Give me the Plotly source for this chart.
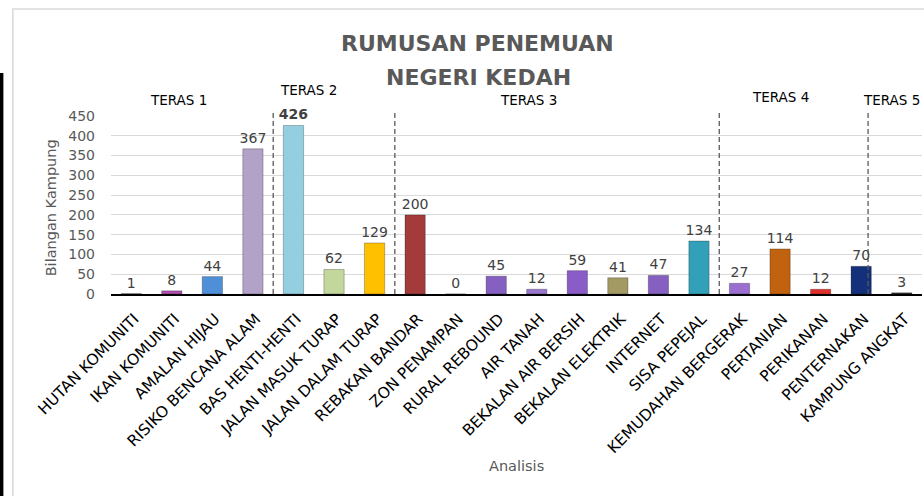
import plotly.graph_objects as go

categories = ["HUTAN KOMUNITI", "IKAN KOMUNITI", "AMALAN HIJAU", "RISIKO BENCANA ALAM",
              "BAS HENTI-HENTI", "JALAN MASUK TURAP", "JALAN DALAM TURAP", "REBAKAN BANDAR",
              "ZON PENAMPAN", "RURAL REBOUND", "AIR TANAH", "BEKALAN AIR BERSIH",
              "BEKALAN ELEKTRIK", "INTERNET", "SISA PEPEJAL", "KEMUDAHAN BERGERAK",
              "PERTANIAN", "PERIKANAN", "PENTERNAKAN", "KAMPUNG ANGKAT"]
values = [1, 8, 44, 367, 426, 62, 129, 200, 0, 45, 12, 59, 41, 47, 134, 27, 114, 12, 70, 3]
bar_colors = ["#7f7f7f", "#b04fb0", "#4f8fd8", "#b3a2c7", "#93cfe0", "#c3d69b", "#ffc000",
              "#a33b3b", "#888888", "#8660c0", "#9977cc", "#8a5cc8", "#a39a63", "#8660c0",
              "#31a0b8", "#9a6fd0", "#c0620f", "#e0302c", "#14307a", "#333333"]
teras_labels = ["TERAS 1", "TERAS 2", "TERAS 3", "TERAS 4", "TERAS 5"]
teras_dividers = [3.5, 6.5, 14.5, 18.17]
y_ticks = [0, 50, 100, 150, 200, 250, 300, 350, 400, 450]

FONT = "'DejaVu Sans', sans-serif"

text_labels = [f"<b>{v}</b>" if v == max(values) else str(v) for v in values]

fig = go.Figure(go.Bar(
    x=categories, y=values, width=0.5,
    marker=dict(color=bar_colors, line=dict(color="rgba(0,0,0,0.25)", width=1)),
    text=text_labels, textposition="outside", cliponaxis=False, constraintext="none",
    textfont=dict(family=FONT, size=14, color="#404040"),
))

W, H = 924, 496
L, R, T, B = 110.7, 922.3, 116, 294

def px(x):
    return (x - L) / (R - L)

def py(y):
    return (B - y) / (B - T)

shapes = []
for d in teras_dividers:
    shapes.append(dict(type="line", xref="x", yref="paper", x0=d, x1=d, y0=0, y1=py(110),
                       line=dict(color="#595959", width=1.3, dash="5px,3px")))
# card border and left black strip
shapes.append(dict(type="rect", xref="paper", yref="paper", x0=px(12.5), x1=px(960), y0=py(520), y1=py(9),
                   line=dict(color="#d9d9d9", width=1.5), fillcolor="rgba(0,0,0,0)", layer="below"))
shapes.append(dict(type="rect", xref="paper", yref="paper", x0=px(-2), x1=px(3), y0=py(520), y1=py(73),
                   line=dict(width=0), fillcolor="black"))

teras_pos = [(178, 100, "center"), (308, 90, "center"), (529, 100, "center"),
             (781, 97, "center"), (922, 100, "right")]
annotations = []
for lab, (x, y, anc) in zip(teras_labels, teras_pos):
    annotations.append(dict(text=lab, xref="paper", yref="paper", x=px(x), y=py(y),
                            xanchor=anc, yanchor="middle", showarrow=False,
                            font=dict(family=FONT, size=13.5, color="black")))
annotations += [
    dict(text="<b>RUMUSAN PENEMUAN</b>", xref="paper", yref="paper", x=px(477), y=py(43),
         xanchor="center", yanchor="middle", showarrow=False,
         font=dict(family=FONT, size=22, color="#595959")),
    dict(text="<b>NEGERI KEDAH</b>", xref="paper", yref="paper", x=px(478), y=py(77),
         xanchor="center", yanchor="middle", showarrow=False,
         font=dict(family=FONT, size=22, color="#595959")),
    dict(text="Bilangan Kampung", xref="paper", yref="paper", x=px(51), y=py(208),
         xanchor="center", yanchor="middle", textangle=-90, showarrow=False,
         font=dict(family=FONT, size=14.5, color="#595959")),
    dict(text="Analisis", xref="paper", yref="paper", x=px(516), y=py(466),
         xanchor="center", yanchor="middle", showarrow=False,
         font=dict(family=FONT, size=14.5, color="#595959")),
]

fig.update_layout(
    width=W, height=H,
    margin=dict(l=L, r=W - R, t=T, b=H - B, autoexpand=False),
    paper_bgcolor="white", plot_bgcolor="white",
    showlegend=False,
    shapes=shapes, annotations=annotations,
    font=dict(family=FONT),
)
fig.update_xaxes(type="category", tickangle=-45, range=[-0.5, len(categories) - 0.5],
                 showline=True, linecolor="black", linewidth=1.5, ticks="",
                 ticklabelstandoff=8, ticklabelshift=3,
                 tickfont=dict(family=FONT, size=15.5, color="black"), automargin=False)
fig.update_yaxes(range=[0, 450], tickvals=y_ticks, showgrid=True, gridcolor="#d9d9d9",
                 gridwidth=1, zeroline=False, showline=False, ticks="",
                 ticklabelstandoff=15,
                 tickfont=dict(family=FONT, size=14, color="#595959"), automargin=False)

fig.write_html("out.html", config={"displayModeBar": False},
               post_script="document.body.style.margin='0';document.body.style.overflow='hidden';")
